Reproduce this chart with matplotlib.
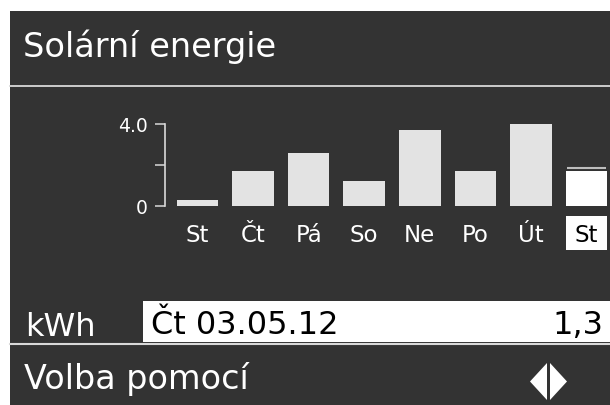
import matplotlib.pyplot as plt
from matplotlib.patches import Rectangle, Polygon
from matplotlib.transforms import ScaledTranslation

# --- Daily solar yield (kWh) for the last eight days ---
days = ['St', 'Čt', 'Pá', 'So', 'Ne', 'Po', 'Út', 'St']
energy_kwh = [0.3, 1.7, 2.6, 1.2, 3.7, 1.7, 4.0, 1.7]
y_ticks = [0, 2, 4]
y_tick_labels = ['0', '', '4.0']

title = 'Solární energie'
unit = 'kWh'
selected_date = 'Čt 03.05.12'
selected_value = '1,3'
footer = 'Volba pomocí'

W, H = 610, 405
DARK = '#333333'
BAR = '#e3e3e3'
LINE = '#d9d9d9'


def fx(x):
    return x / W


def fy(y):
    # pixel rows are counted from the top
    return 1 - y / H


fig = plt.figure(figsize=(W / 100, H / 100), dpi=100)
fig.patch.set_facecolor('white')
plt.rcParams['font.family'] = ['DejaVu Sans']

# display panel
fig.patches.append(Rectangle((fx(10), 0), fx(600), fy(11), transform=fig.transFigure,
                             facecolor=DARK, edgecolor='none', zorder=-10))

# header
fig.text(fx(23), fy(57), title, fontsize=24.2, color='white', va='baseline', ha='left')
fig.add_artist(plt.Line2D([fx(10), 1], [fy(86), fy(86)], color=LINE, lw=1.3))

# --- bar chart ---
ax = fig.add_axes([fx(165), fy(206), fx(445), 82 / H], zorder=5)
ax.patch.set_visible(False)
pos = list(range(len(days)))
bar_w = 0.747
colors = [BAR] * (len(days) - 1) + ['white']
ax.bar(pos, energy_kwh, width=bar_w, color=colors, edgecolor='none', clip_on=False)

# thin marker just above the current day's bar
shift = ScaledTranslation(0, 3.5 / 100, fig.dpi_scale_trans)
ax.hlines(energy_kwh[-1], pos[-1] - bar_w / 2 + 0.02, pos[-1] + bar_w / 2 - 0.02,
          colors='#bdbdbd', lw=1.5, transform=ax.transData + shift, clip_on=False)

ax.set_xlim(-0.585, 7.423)
ax.set_ylim(0, 4)
for s in ['top', 'right', 'bottom']:
    ax.spines[s].set_visible(False)
ax.spines['left'].set_color(LINE)
ax.spines['left'].set_linewidth(1.2)
ax.set_xticks([])
ax.set_yticks(y_ticks, labels=y_tick_labels)
ax.tick_params(axis='y', length=7.2, width=1.1, color=LINE, pad=5,
               labelsize=13.5, labelcolor='white')

# day labels, today's highlighted
xt = ax.get_xaxis_transform()
ax.add_patch(Rectangle((pos[-1] - bar_w / 2, -0.537), bar_w, 0.415, transform=xt,
                       facecolor='white', edgecolor='none', clip_on=False))
for i, d in enumerate(days):
    ax.text(pos[i], -0.435, d, transform=xt, ha='center', va='baseline', fontsize=16.5,
            color='black' if i == len(days) - 1 else 'white')

# --- selected day readout ---
fig.text(fx(25), fy(335.5), unit, fontsize=23.1, color='white', va='baseline')
fig.patches.append(Rectangle((fx(143), fy(342)), 1 - fx(143), (342 - 301) / H,
                             transform=fig.transFigure, facecolor='white', edgecolor='none',
                             zorder=-5))
fig.add_artist(plt.Line2D([fx(10), 1], [fy(343.5), fy(343.5)], color=LINE, lw=1.5))
fig.text(fx(151), fy(334.5), selected_date, fontsize=23, color='black', va='baseline')
fig.text(fx(603), fy(334.5), selected_value, fontsize=23, color='black', va='baseline', ha='right')

# footer with left/right selector icon
fig.text(fx(24), fy(388.5), footer, fontsize=24, color='white', va='baseline')
for tri in ([(530, 381.5), (547, 363), (547, 400)], [(550, 363), (550, 400), (567, 381.5)]):
    fig.patches.append(Polygon([(fx(x), fy(y)) for x, y in tri], closed=True,
                               transform=fig.transFigure, facecolor='white', edgecolor='none'))

fig.savefig('out.png', dpi=100, facecolor=fig.get_facecolor())
